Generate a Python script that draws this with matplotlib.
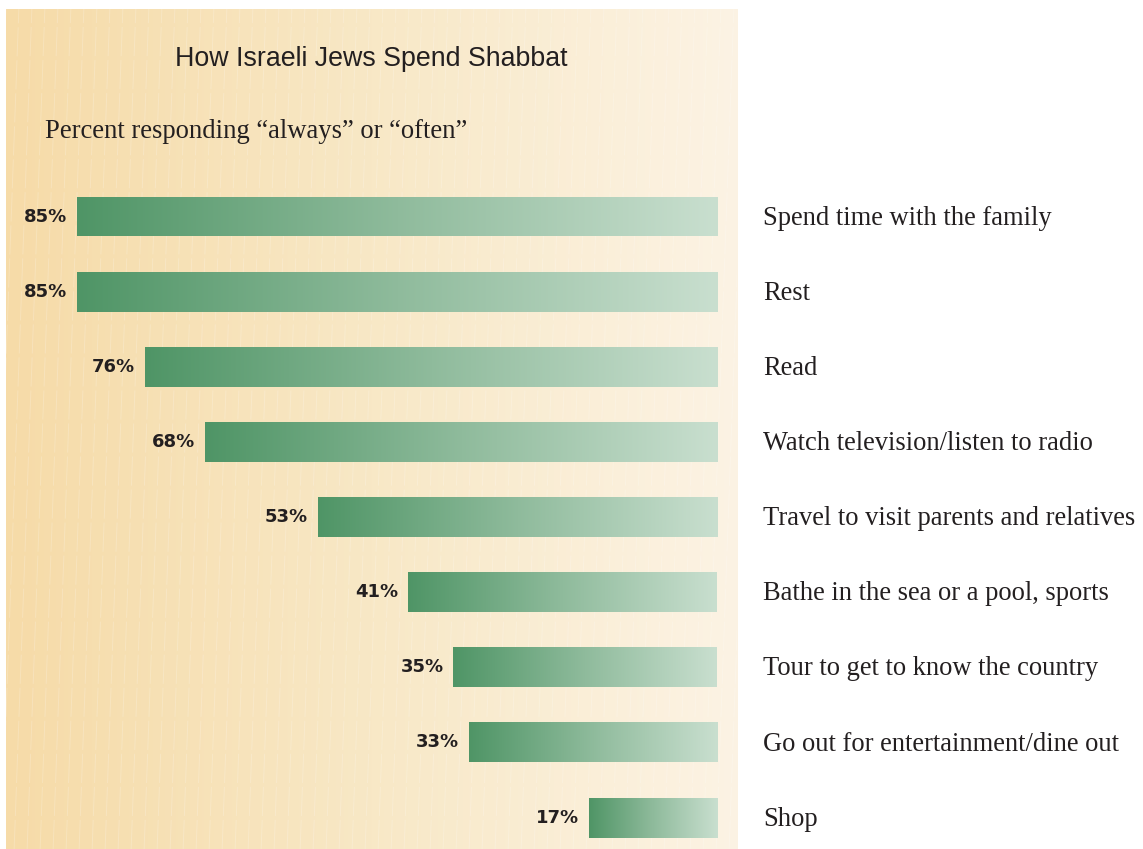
import numpy as np
import matplotlib
matplotlib.use("Agg")
import matplotlib.pyplot as plt
from matplotlib.colors import LinearSegmentedColormap

# ---- data ----
categories = [
    "Spend time with the family",
    "Rest",
    "Read",
    "Watch television/listen to radio",
    "Travel to visit parents and relatives",
    "Bathe in the sea or a pool, sports",
    "Tour to get to know the country",
    "Go out for entertainment/dine out",
    "Shop",
]
values = [85, 85, 76, 68, 53, 41, 35, 33, 17]
title = "How Israeli Jews Spend Shabbat"
subtitle = "Percent responding \u201calways\u201d or \u201coften\u201d"

W, H = 1143, 849
fig = plt.figure(figsize=(W / 100, H / 100), dpi=100)
fig.patch.set_facecolor("white")

# ---- background panel ----
px0, px1, py0, py1 = 6, 737, 9, 849
ax_bg = fig.add_axes([px0 / W, 1 - py1 / H, (px1 - px0) / W, (py1 - py0) / H])
bg_cmap = LinearSegmentedColormap.from_list("bg", ["#f6dba8", "#f8e8c6", "#fcf3e4"])
ax_bg.imshow(np.linspace(0, 1, 256)[None, :], cmap=bg_cmap, aspect="auto",
             extent=(0, 1, 0, 1), interpolation="bicubic")
for x in np.arange(-0.06, 1.06, 13 / (px1 - px0)):
    ax_bg.plot([x, x + 0.042], [0, 1], color="white", lw=0.7, alpha=0.2,
               linestyle=(0, (30, 4)))
ax_bg.set_xlim(0, 1)
ax_bg.set_ylim(0, 1)
ax_bg.axis("off")

# ---- main axes (whole figure, scaled so bars are right-aligned) ----
ppv = 7.53          # pixels per percentage point
xr = 717            # right edge of bars in pixels
y0, dy = 216.5, 75.13
ax = fig.add_axes([0, 0, 1, 1])
ax.patch.set_alpha(0)
ax.axis("off")

pos = np.arange(len(values))
bar_h = 40 / dy
bars = ax.barh(pos, values, height=bar_h, left=0, color="none", edgecolor="none")
bar_cmap = LinearSegmentedColormap.from_list("bar", ["#4f9566", "#8fbb9c", "#c9dfcf"])
grad = np.linspace(0, 1, 256)[None, :]
for b, v, p in zip(bars, values, pos):
    im = ax.imshow(grad, cmap=bar_cmap, aspect="auto", interpolation="bicubic",
                   extent=(v, 0, p + bar_h / 2, p - bar_h / 2), zorder=2)
    im.set_clip_path(b)
    ax.annotate(f"{v}%", xy=(v, p), xytext=(-7, 0), textcoords="offset points",
                ha="right", va="center", fontsize=13, fontweight="bold",
                family="DejaVu Sans", color="#231f20")
    ax.annotate(categories[p], xy=(0, p), xytext=(46 / 1.3889, -1.2),
                textcoords="offset points", ha="left", va="center",
                fontsize=19.1, family="Liberation Serif", color="#231f20")

ax.set_xlim(xr / ppv, (xr - W) / ppv)
ax.set_ylim((H - y0) / dy, -y0 / dy)

fig.text(371 / W, 1 - 59 / H, title, ha="center", va="center",
         fontsize=19.3, family="Liberation Sans", color="#231f20")
fig.text(45 / W, 1 - 131 / H, subtitle, ha="left", va="center",
         fontsize=19.2, family="Liberation Serif", color="#231f20")

fig.savefig("out.png", dpi=100, facecolor="white")
